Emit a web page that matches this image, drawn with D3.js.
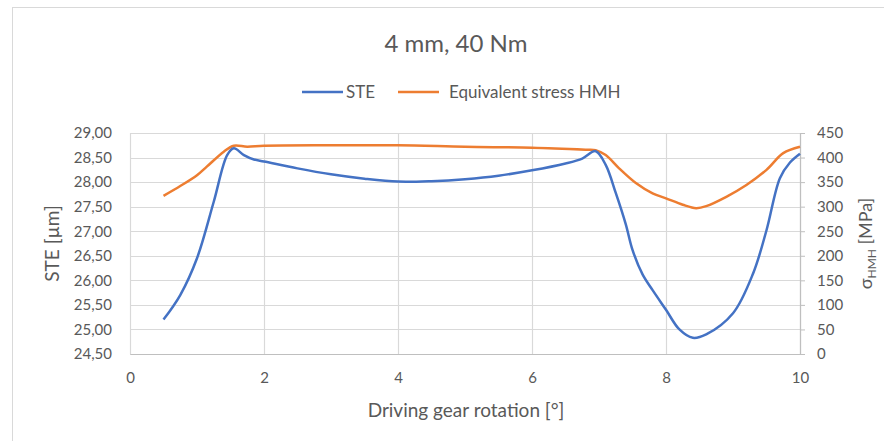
<!DOCTYPE html>
<html>
<head>
<meta charset="utf-8">
<script src="https://d3js.org/d3.v7.min.js"></script>
<style>
  body { margin: 0; background: #fff; }
  text { font-family: Lato, "Open Sans", sans-serif; fill: #595959; }
</style>
</head>
<body>
<script>
//Define SVG width and height
let fullSVGWidth = 884;
let fullSVGHeight = 441;

//Chart data
let steX = [0.5, 0.75, 1.0, 1.25, 1.45, 1.55, 1.7, 1.85, 2.0, 2.5, 3.0, 3.5, 4.0, 4.5, 5.0, 5.5, 6.0, 6.5, 6.75, 6.95, 7.1, 7.25, 7.4, 7.5, 7.65, 7.8, 8.0, 8.2, 8.4, 8.6, 9.0, 9.3, 9.5, 9.7, 9.85, 10.0];
let steValues = [25.20, 25.70, 26.45, 27.60, 28.55, 28.69, 28.55, 28.46, 28.42, 28.28, 28.16, 28.07, 28.01, 28.02, 28.06, 28.13, 28.24, 28.38, 28.48, 28.63, 28.35, 27.78, 27.14, 26.62, 26.12, 25.80, 25.40, 25.00, 24.83, 24.90, 25.33, 26.14, 27.02, 28.08, 28.40, 28.58];

let hmhX = [0.5, 0.75, 1.0, 1.15, 1.4, 1.55, 1.75, 2.0, 3.0, 4.0, 5.0, 6.0, 6.8, 6.95, 7.1, 7.3, 7.55, 7.8, 8.0, 8.25, 8.45, 8.6, 8.9, 9.2, 9.5, 9.75, 10.0];
let hmhValues = [322, 342, 364, 382, 412, 424, 422, 424, 425, 425, 422, 420, 416, 415, 405, 378, 348, 327, 317, 304, 297, 301, 320, 344, 375, 409, 422];

let xTicks = [0, 2, 4, 6, 8, 10];
let steTicks = d3.range(0, 10).map(i => 24.5 + i * 0.5);
let hmhTicks = d3.range(0, 10).map(i => i * 50);

let seriesNames = ["STE", "Equivalent stress HMH"];
let seriesColors = ["#4472c4", "#ed7d31"];

//Margins of the plot area
let margins = { top: 133, right: 84, bottom: 87, left: 130 };
let chartWidth = fullSVGWidth - margins.left - margins.right;
let chartHeight = fullSVGHeight - margins.top - margins.bottom;

let xScale = d3.scaleLinear().domain([0, 10]).range([0, chartWidth]);
let yLeft = d3.scaleLinear().domain([24.5, 29]).range([chartHeight, 0]);
let yRight = d3.scaleLinear().domain([0, 450]).range([chartHeight, 0]);

let svg = d3.select("body")
    .append("svg")
    .attr("width", fullSVGWidth)
    .attr("height", fullSVGHeight);

//chart border
svg.append("rect")
    .attr("x", 12.5)
    .attr("y", 7.5)
    .attr("width", fullSVGWidth)
    .attr("height", fullSVGHeight)
    .style("fill", "none")
    .style("stroke", "#d9d9d9")
    .style("stroke-width", 1);

//title
svg.append("text")
    .attr("x", 456)
    .attr("y", 52)
    .attr("text-anchor", "middle")
    .style("font-size", "24px")
    .text("4 mm, 40 Nm");

//legend
let legendX = [302, 398];
seriesNames.forEach(function(name, i) {
    svg.append("line")
        .attr("x1", legendX[i])
        .attr("x2", legendX[i] + 41)
        .attr("y1", 92)
        .attr("y2", 92)
        .style("stroke", seriesColors[i])
        .style("stroke-width", 2.5);
    svg.append("text")
        .attr("x", legendX[i] + (i === 0 ? 44 : 51))
        .attr("y", 98)
        .style("font-size", "17px")
        .text(name);
});

let g = svg.append("g")
    .attr("transform", "translate(" + margins.left + "," + margins.top + ")");

//gridlines
g.selectAll(".hgrid")
    .data(steTicks)
    .enter()
    .append("line")
    .attr("class", "hgrid")
    .attr("x1", 0)
    .attr("x2", chartWidth)
    .attr("y1", d => Math.round(yLeft(d)) + 0.5)
    .attr("y2", d => Math.round(yLeft(d)) + 0.5)
    .style("stroke", "#d9d9d9")
    .style("stroke-width", 1.2);

g.selectAll(".vgrid")
    .data(xTicks)
    .enter()
    .append("line")
    .attr("class", "vgrid")
    .attr("x1", d => Math.round(xScale(d)) + 0.5)
    .attr("x2", d => Math.round(xScale(d)) + 0.5)
    .attr("y1", 0)
    .attr("y2", chartHeight)
    .style("stroke", "#d9d9d9")
    .style("stroke-width", 1.2);

//axes
let xAxis = g.append("g")
    .attr("transform", "translate(0," + chartHeight + ")")
    .call(d3.axisBottom(xScale).tickValues(xTicks).tickSize(0).tickPadding(18));

let leftAxis = g.append("g")
    .call(d3.axisLeft(yLeft).tickValues(steTicks).tickSize(0).tickPadding(18)
        .tickFormat(d => d3.format(".2f")(d).replace(".", ",")));

let rightAxis = g.append("g")
    .attr("transform", "translate(" + chartWidth + ",0)")
    .call(d3.axisRight(yRight).tickValues(hmhTicks).tickSize(5).tickPadding(12));

[xAxis, leftAxis, rightAxis].forEach(function(ax) {
    ax.selectAll("path").style("stroke", "#bfbfbf").style("stroke-width", 1.2);
    ax.selectAll("line").style("stroke", "#bfbfbf");
    ax.selectAll("text")
        .style("font-size", "15px")
        .style("fill", "#595959")
        .style("font-family", "Lato, 'Open Sans', sans-serif");
});
leftAxis.select("path").remove();

//series lines
let steLine = d3.line()
    .x(d => xScale(d[0]))
    .y(d => yLeft(d[1]))
    .curve(d3.curveCatmullRom.alpha(0.5));

let hmhLine = d3.line()
    .x(d => xScale(d[0]))
    .y(d => yRight(d[1]))
    .curve(d3.curveCatmullRom.alpha(0.5));

g.append("path")
    .datum(hmhX.map((x, i) => [x, hmhValues[i]]))
    .attr("d", hmhLine)
    .style("fill", "none")
    .style("stroke", seriesColors[1])
    .style("stroke-width", 2.5);

g.append("path")
    .datum(steX.map((x, i) => [x, steValues[i]]))
    .attr("d", steLine)
    .style("fill", "none")
    .style("stroke", seriesColors[0])
    .style("stroke-width", 2.5);

//axis titles
svg.append("text")
    .attr("x", 466)
    .attr("y", 417)
    .attr("text-anchor", "middle")
    .style("font-size", "19px")
    .text("Driving gear rotation [°]");

svg.append("text")
    .attr("transform", "translate(59," + (margins.top + chartHeight / 2) + ") rotate(-90)")
    .attr("text-anchor", "middle")
    .style("font-size", "19px")
    .text("STE [µm]");

let rightTitle = svg.append("text")
    .attr("transform", "translate(872," + (margins.top + chartHeight / 2) + ") rotate(-90)")
    .attr("text-anchor", "middle")
    .style("font-size", "18px");
rightTitle.append("tspan").text("σ");
rightTitle.append("tspan").attr("dy", 4).style("font-size", "12px").text("HMH");
rightTitle.append("tspan").attr("dy", -4).text(" [MPa]");
</script>
</body>
</html>
